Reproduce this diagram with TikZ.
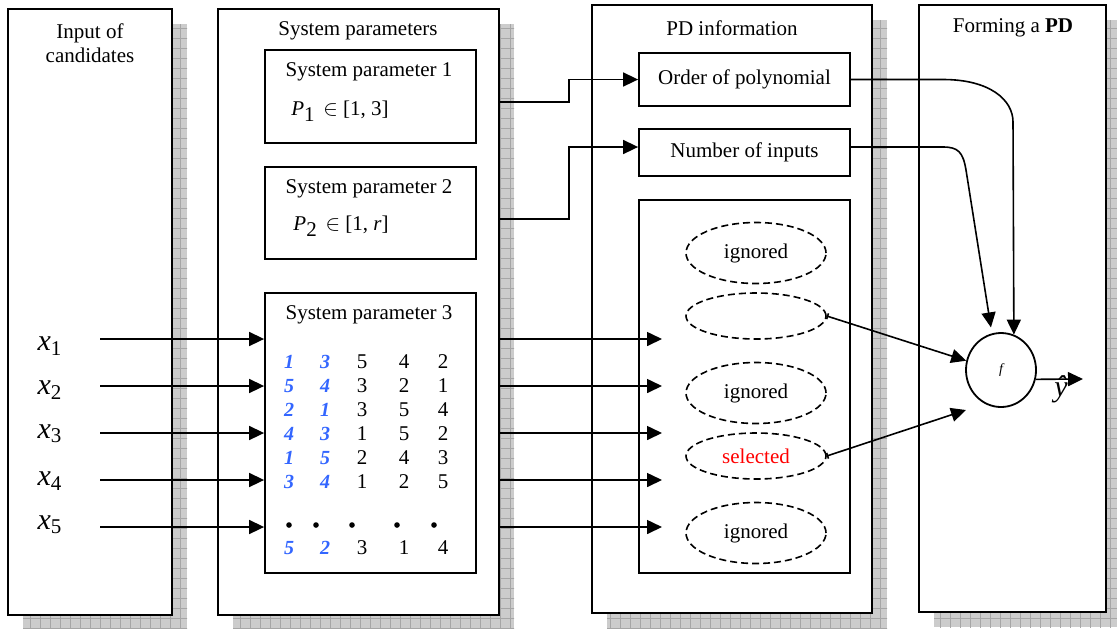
\documentclass[tikz,border=0pt]{standalone}
\usepackage{fontspec}
\setmainfont{Liberation Serif}
\usetikzlibrary{arrows.meta,shapes.geometric,patterns.meta}
\definecolor{numblue}{RGB}{51,102,255}
\tikzset{
  panel/.style={draw, line width=0.9pt, fill=white, inner sep=0pt,
    preaction={fill=gray!40, transform canvas={shift={(7.5pt,-7.5pt)}}},
    preaction={pattern={Hatch[angle=0,distance=5pt,line width=0.4pt]}, pattern color=gray!70,
      transform canvas={shift={(7.5pt,-7.5pt)}}}},
  box/.style={draw, line width=0.9pt, fill=white, inner sep=0pt, minimum width=105.5pt},
  oval/.style={ellipse, draw, dash pattern=on 3.5pt off 2pt, line width=0.8pt,
    minimum width=70pt, inner sep=0pt},
  arr/.style={line width=0.8pt, -{Triangle[length=7.5pt,width=7pt]}},
  barr/.style={line width=0.8pt, {Bar[width=3pt]}-{Triangle[length=7.5pt,width=7pt]}},
  bluenum/.style={text=numblue, font=\bfseries\itshape},
  bigx/.style={font=\fontsize{15}{15}\selectfont\itshape},
  bullet/.style={circle, fill, inner sep=0pt, minimum size=2.8pt},
}
\begin{document}
\begin{tikzpicture}[x=0.5pt, y=-0.5pt, font=\fontsize{10.5}{12}\selectfont]
    \useasboundingbox (0,0) rectangle (1117,628);
    \clip (0,0) rectangle (1117,628);
    \node[panel, minimum width=82pt, minimum height=303pt] (inputs) at (90,312) {};
    \node[panel, minimum width=140.5pt, minimum height=303pt] (sys) at (358.5,312) {};
    \node[panel, minimum width=140pt, minimum height=304pt] (info) at (732,309) {};
    \node[panel, minimum width=93.5pt, minimum height=303.5pt] (form) at (1012.5,308.5) {};
    \node[align=center] (inputstitle) at (90,43) {Input of\\candidates};
    \node (systitle) at (358,31) {System parameters};
    \node (infotitle) at (732,28) {PD information};
    \node (formtitle) at (1013,28) {Forming a \textbf{PD}};
    \node[box, minimum height=46.5pt] (sp1) at (370.5,96.5) {};
    \node[box, minimum height=46pt] (sp2) at (370.5,213) {};
    \node[box, minimum height=140pt] (sp3) at (370.5,433) {};
    \node (sp1title) at (369,72) {System parameter 1};
    \node (sp1range) at (340,111) {{\itshape P}\raisebox{-3pt}{1}\,\ $\in$ [1, 3]};
    \node (sp2title) at (369,189) {System parameter 2};
    \node (sp2range) at (341,226) {{\itshape P}\raisebox{-3pt}{2}\,\ $\in$ [1, {\itshape r}]};
    \node (sp3title) at (369,315) {System parameter 3};
    \foreach \y/\a/\b/\c/\d/\e in {362/1/3/5/4/2, 386/5/4/3/2/1, 410/2/1/3/5/4,
        434/4/3/1/5/2, 458/1/5/2/4/3, 482/3/4/1/2/5, 548/5/2/3/1/4} {
        \node[bluenum] (n\y-1) at (289,\y) {\a};
        \node[bluenum] (n\y-2) at (325,\y) {\b};
        \node (n\y-3) at (362,\y) {\c};
        \node (n\y-4) at (404,\y) {\d};
        \node (n\y-5) at (443,\y) {\e};
    }
    \foreach \x [count=\i] in {289,316,352,397,434}
        \node[bullet] (dot\i) at (\x,525) {};
    \node[box, minimum height=26.5pt] (order) at (744.5,79.5) {Order of polynomial};
    \node[box, minimum height=23.5pt] (number) at (744.5,152.5) {Number of inputs};
    \node[box, minimum height=186.5pt] (pool) at (744.5,386.5) {};
    \node[oval, minimum height=30.5pt] (e1) at (756,253) {ignored};
    \node[oval, minimum height=23pt] (e2) at (756,316) {};
    \node[oval, minimum height=30.5pt] (e3) at (756,393) {ignored};
    \node[oval, minimum height=23pt, text=red] (e4) at (756,456) {selected};
    \node[oval, minimum height=30.5pt] (e5) at (756,533) {ignored};
    \node[ellipse, draw, line width=0.9pt, minimum width=35pt, minimum height=37pt, inner sep=0pt,
        font=\fontsize{7}{7}\selectfont\itshape] (f) at (1001,370) {f};
    \node[bigx] (yhat) at (1061,389) {\^y};
    \coordinate (yout) at (1083,379);
    \coordinate (t4) at (966,410);
    \coordinate (k1) at (499,102);
    \coordinate (k2) at (499,219);
    \foreach \y/\ly [count=\i] in {339/346, 386/390, 433/434, 480/481, 527/525} {
        \node[bigx] (x\i) at (50,\ly) {x\textsubscript{\upshape\i}};
        \coordinate (in\i) at (100,\y);
        \coordinate (out\i) at (662,\y);
        \draw[arr] (in\i) -- (in\i -| sp3.west);
        \draw[arr] (in\i -| sys.east) -- (out\i);
    }
    \draw[arr] (k1) -- ++(70,0) |- (order.west);
    \draw[arr] (k2) -- ++(70,0) |- ([yshift=2.75pt]number.west);
    \draw[arr] (order.east) -- (943,79.5) .. controls (990,79.5) and (1013,100) .. (1013,122) -- (f.70);
    \draw[arr, shorten >=3pt] ([yshift=2.75pt]number.east) -- (943,147) .. controls (958,147) and (963,152) .. (966,170) -- (f.104);
    \draw[barr] (e2.east) -- (f.165);
    \draw[barr] (e4.east) -- (t4);
    \draw[arr] (f.-15) -- (yout);
\end{tikzpicture}
\end{document}
